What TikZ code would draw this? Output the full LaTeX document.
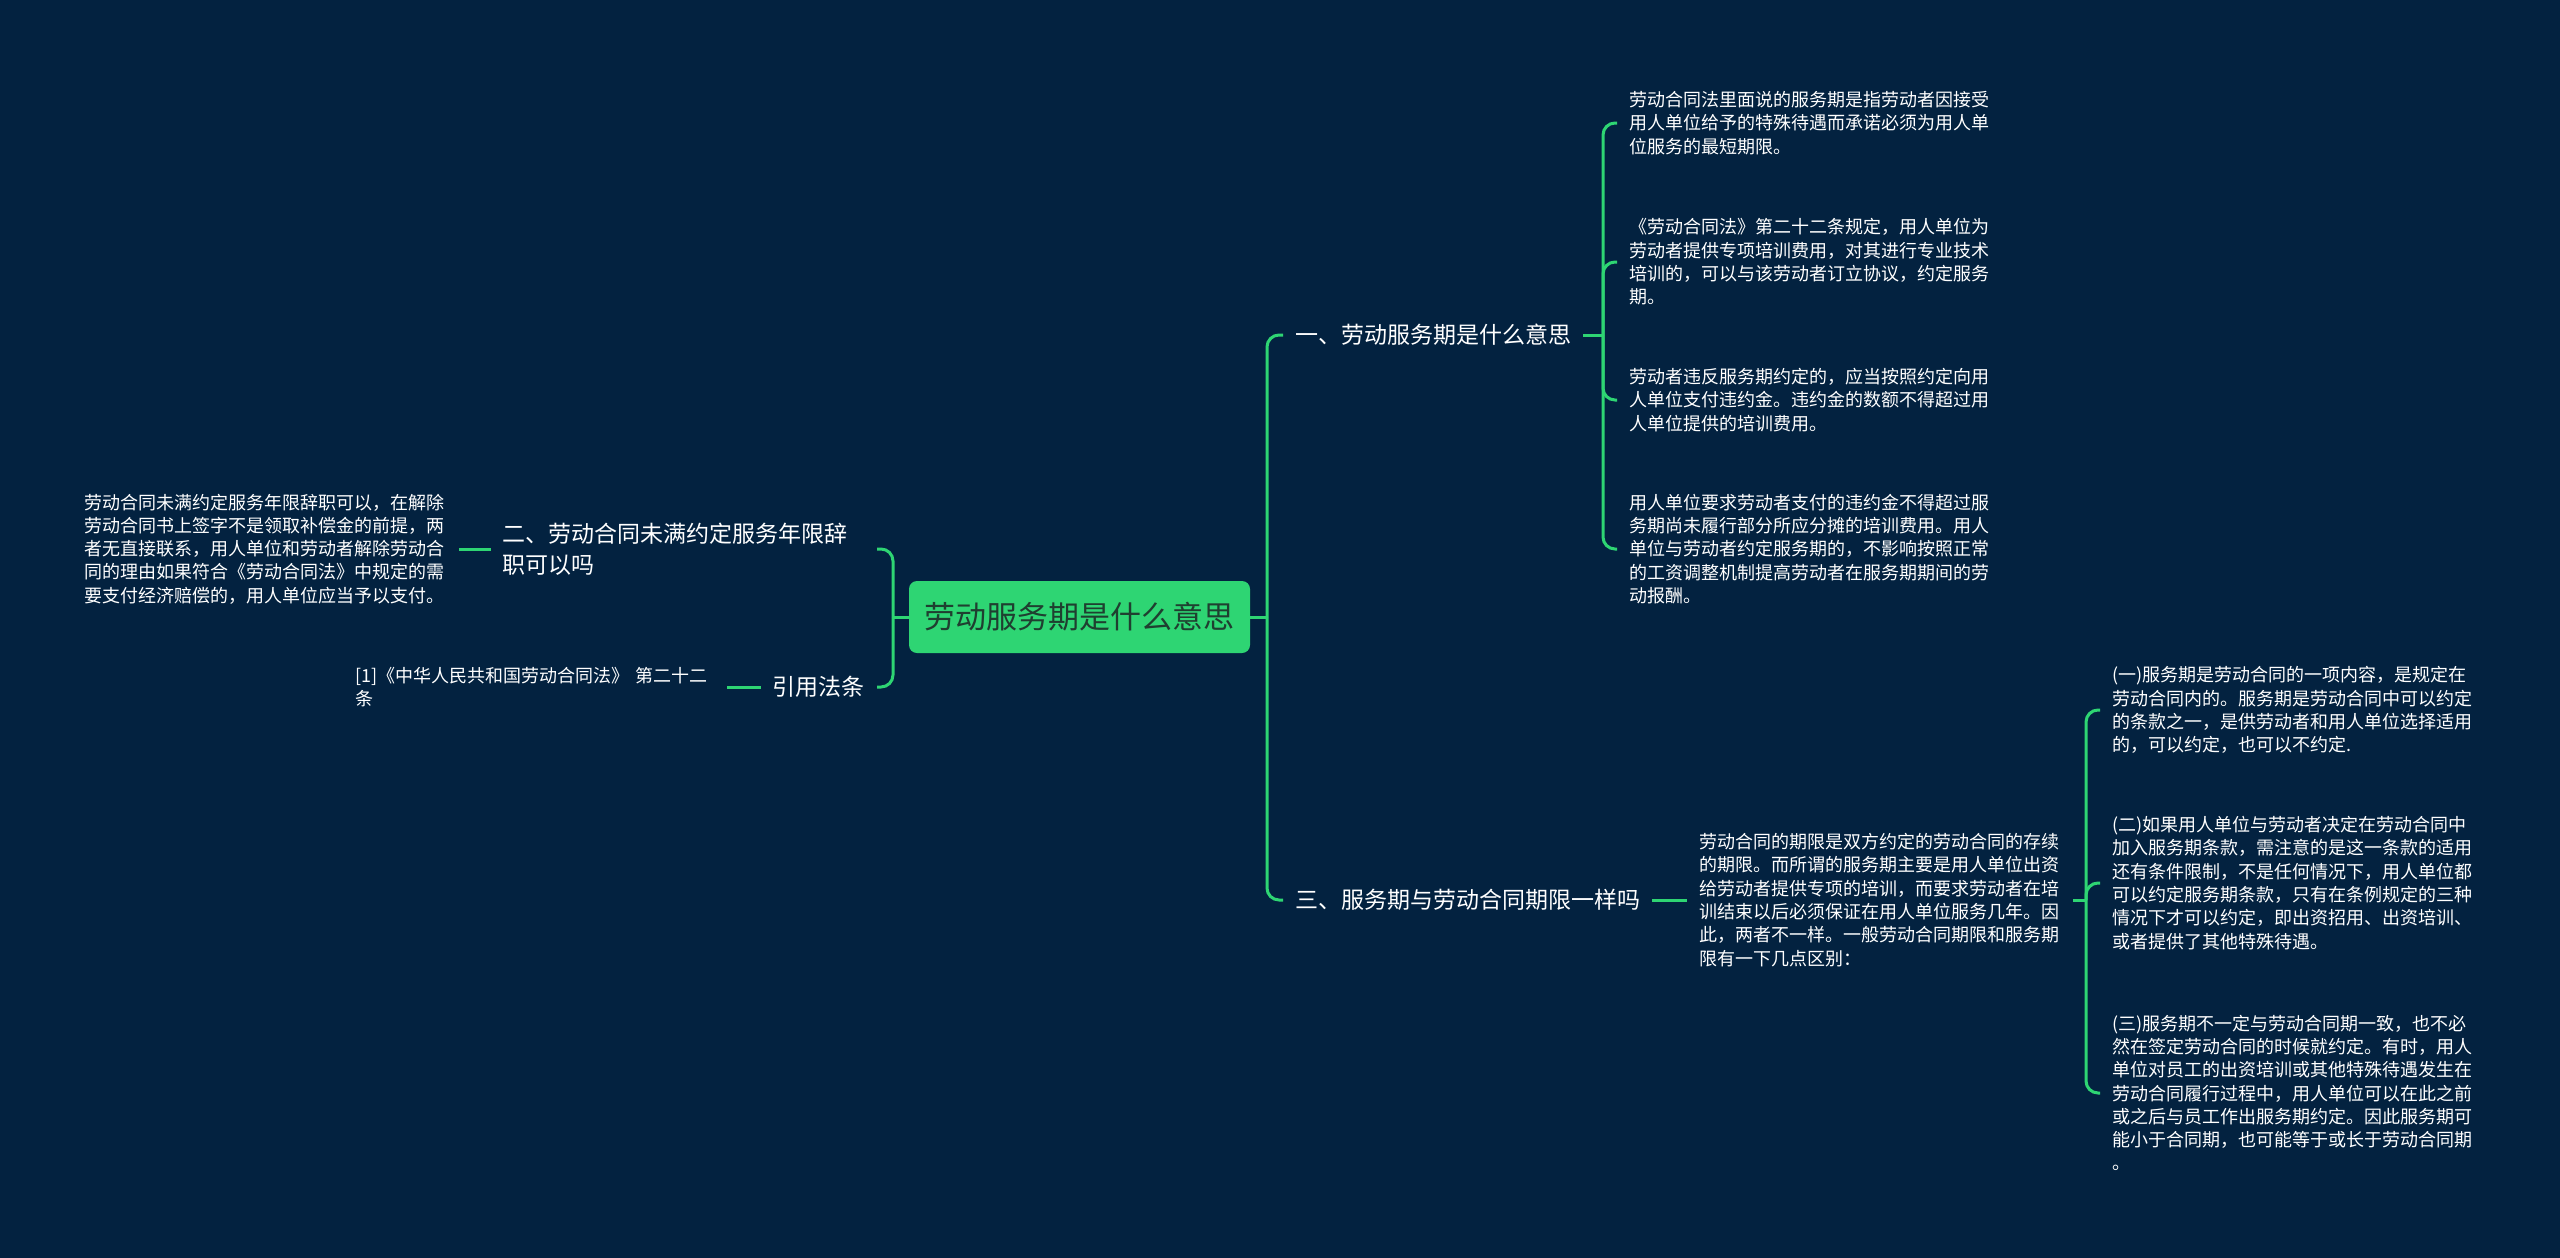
\documentclass[tikz,border=0pt]{standalone}
\usepackage{fontspec}
\setmainfont{Noto Sans CJK SC}
\definecolor{bg}{HTML}{032240}
\definecolor{lg}{HTML}{2ED573}
\definecolor{rt}{HTML}{1F3F30}
\tikzset{
  conn/.style={draw=lg, line width=3pt, rounded corners=12pt},
  para/.style={text=white, font=\fontsize{18}{23.3}\selectfont, align=left, text width=362pt, inner xsep=12pt, inner ysep=0pt},
  lvl/.style={text=white, font=\fontsize{23}{31}\selectfont, inner xsep=12pt, inner ysep=0pt},
  rootnode/.style={fill=lg, rounded corners=8pt, text=rt, font=\fontsize{31}{36}\selectfont, minimum width=341pt, minimum height=72pt, inner sep=0pt},
}
\begin{document}
\begin{tikzpicture}[x=1pt,y=-1pt]
\useasboundingbox (0,0) rectangle (2560,1258);
\fill[bg] (0,0) rectangle (2560,1258);

% root
\node[rootnode] (root) at (1079.5,617) {劳动服务期是什么意思};

% left side
\node[lvl, anchor=east, text width=362pt, align=left] (n2) at (877,549) {二、劳动合同未满约定服务年限辞\\职可以吗};
\node[lvl, anchor=east] (n3) at (877,687) {引用法条};
\node[para, anchor=east] (L) at (459,549) {劳动合同未满约定服务年限辞职可以，在解除\\劳动合同书上签字不是领取补偿金的前提，两\\者无直接联系，用人单位和劳动者解除劳动合\\同的理由如果符合《劳动合同法》中规定的需\\要支付经济赔偿的，用人单位应当予以支付。};
\node[para, anchor=east, text width=359pt] (ref) at (727,687) {[1]《中华人民共和国劳动合同法》 第二十二\\条};

% right side level 1
\node[lvl, anchor=west] (n1) at (1283,335) {一、劳动服务期是什么意思};
\node[lvl, anchor=west] (n4) at (1283,900) {三、服务期与劳动合同期限一样吗};

% children of 一
\node[para, anchor=west] (p1) at (1617,123) {劳动合同法里面说的服务期是指劳动者因接受\\用人单位给予的特殊待遇而承诺必须为用人单\\位服务的最短期限。};
\node[para, anchor=west] (p2) at (1617,262) {《劳动合同法》第二十二条规定，用人单位为\\劳动者提供专项培训费用，对其进行专业技术\\培训的，可以与该劳动者订立协议，约定服务\\期。};
\node[para, anchor=west] (p3) at (1617,400) {劳动者违反服务期约定的，应当按照约定向用\\人单位支付违约金。违约金的数额不得超过用\\人单位提供的培训费用。};
\node[para, anchor=west] (p4) at (1617,549) {用人单位要求劳动者支付的违约金不得超过服\\务期尚未履行部分所应分摊的培训费用。用人\\单位与劳动者约定服务期的，不影响按照正常\\的工资调整机制提高劳动者在服务期期间的劳\\动报酬。};

% children of 三
\node[para, anchor=west] (m) at (1687,900) {劳动合同的期限是双方约定的劳动合同的存续\\的期限。而所谓的服务期主要是用人单位出资\\给劳动者提供专项的培训，而要求劳动者在培\\训结束以后必须保证在用人单位服务几年。因\\此，两者不一样。一般劳动合同期限和服务期\\限有一下几点区别：};
\node[para, anchor=west] (q1) at (2100,710) {(一)服务期是劳动合同的一项内容，是规定在\\劳动合同内的。服务期是劳动合同中可以约定\\的条款之一，是供劳动者和用人单位选择适用\\的，可以约定，也可以不约定.};
\node[para, anchor=west] (q2) at (2100,883) {(二)如果用人单位与劳动者决定在劳动合同中\\加入服务期条款，需注意的是这一条款的适用\\还有条件限制，不是任何情况下，用人单位都\\可以约定服务期条款，只有在条例规定的三种\\情况下才可以约定，即出资招用、出资培训、\\或者提供了其他特殊待遇。};
\node[para, anchor=west] (q3) at (2100,1093) {(三)服务期不一定与劳动合同期一致，也不必\\然在签定劳动合同的时候就约定。有时，用人\\单位对员工的出资培训或其他特殊待遇发生在\\劳动合同履行过程中，用人单位可以在此之前\\或之后与员工作出服务期约定。因此服务期可\\能小于合同期，也可能等于或长于劳动合同期\\。};

% spines
\coordinate (sL) at (893,617);
\coordinate (sR) at (1267,617);
\coordinate (s1) at (1603,335);
\coordinate (s3) at (2086,900);

% connectors
\draw[conn] (root.west) -- (sL);
\draw[conn] (sL) |- (n2.east);
\draw[conn] (sL) |- (n3.east);
\draw[conn] (L.east) -- (n2.west);
\draw[conn] (ref.east) -- (n3.west);

\draw[conn] (root.east) -- (sR);
\draw[conn] (sR) |- (n1.west);
\draw[conn] (sR) |- (n4.west);

\draw[conn] (n1.east) -- (s1);
\draw[conn] (s1) |- (p1.west);
\draw[conn] (s1) |- (p2.west);
\draw[conn] (s1) |- (p3.west);
\draw[conn] (s1) |- (p4.west);

\draw[conn] (n4.east) -- (m.west);
\draw[conn] (m.east) -- (s3);
\draw[conn] (s3) |- (q1.west);
\draw[conn] (s3) |- (q2.west);
\draw[conn] (s3) |- (q3.west);
\end{tikzpicture}
\end{document}
